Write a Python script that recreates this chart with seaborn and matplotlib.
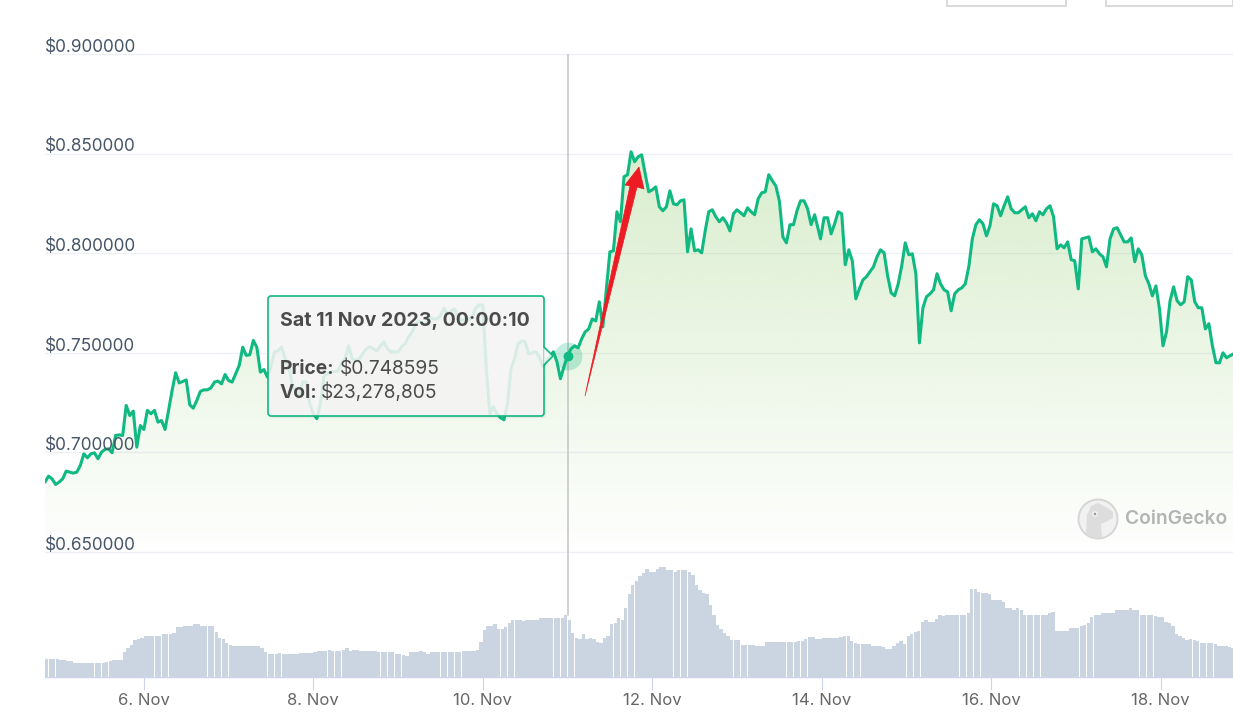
import numpy as np
import pandas as pd
import matplotlib
matplotlib.use('Agg')
import matplotlib.pyplot as plt
import matplotlib.dates as mdates
from matplotlib.patches import Polygon, Circle, Rectangle, FancyBboxPatch
from matplotlib.transforms import Affine2D
import seaborn as sns

# hourly prices, 4 Nov 20:00 onwards
price = [
    .6851, .6881, .6867, .6839, .6851, .6867, .6906, .6901, .6896, .6901, .6934, .6993, .6973, .6993, .6998, .6968,
    .7001, .7015, .7018, .6998, .7085, .7088, .7085, .7236, .7185, .7207, .7026, .7135, .7115, .7211, .7194, .7211,
    .7152, .7160, .7115, .7211, .7311, .7400, .7349, .7356, .7364, .7239, .7222, .7261, .7306, .7314, .7314, .7324,
    .7353, .7358, .7344, .7391, .7361, .7353, .7395, .7436, .7528, .7487, .7490, .7562, .7528, .7403, .7416, .7378,
    .7430, .7505, .7510, .7530, .7470, .7435, .7344, .7309, .7279, .7354, .7354, .7244, .7194, .7169, .7244, .7380,
    .7395, .7405, .7405, .7410, .7445, .7470, .7535, .7470, .7460, .7470, .7495, .7520, .7530, .7520, .7510, .7535,
    .7555, .7520, .7505, .7505, .7505, .7530, .7545, .7580, .7605, .7645, .7660, .7645, .7645, .7680, .7670, .7670,
    .7685, .7725, .7695, .7710, .7720, .7680, .7660, .7670, .7665, .7680, .7725, .7740, .7740, .7420, .7194, .7229,
    .7194, .7174, .7164, .7244, .7420, .7470, .7545, .7560, .7555, .7495, .7500, .7505, .7480, .7430, .7460, .7480,
    .7505, .7455, .7370, .7430, .7486, .7520, .7535, .7525, .7570, .7605, .7620, .7670, .7660, .7756, .7630,
    .7820, .8007, .8012, .8208, .8158, .8384, .8394, .8509, .8459, .8484, .8494, .8399, .8308, .8318, .8333, .8233,
    .8213, .8233, .8313, .8248, .8243, .8263, .8268, .8007, .8122, .8012, .8017, .8002, .8112, .8208, .8218, .8183,
    .8158, .8178, .8153, .8112, .8198, .8218, .8203, .8188, .8228, .8208, .8193, .8273, .8303, .8308, .8394, .8364,
    .8338, .8263, .8082, .8052, .8143, .8143, .8213, .8263, .8263, .8223, .8143, .8193, .8072, .8178, .8178, .8097,
    .8148, .8208, .8198, .7942, .8017, .7962, .7771, .7821, .7866, .7882, .7907, .7932, .7982, .8017, .8002, .7887,
    .7801, .7786, .7846, .7937, .8052, .7992, .7997, .7897, .7550, .7726, .7781, .7796, .7816, .7897, .7846, .7816,
    .7806, .7711, .7796, .7816, .7826, .7846, .7932, .8072, .8143, .8168, .8148, .8087, .8138, .8248, .8238, .8188,
    .8238, .8283, .8223, .8203, .8203, .8218, .8233, .8178, .8198, .8163, .8208, .8193, .8223, .8238, .8183, .8022,
    .8042, .8027, .8057, .7967, .7962, .7821, .8072, .8077, .8082, .8007, .8022, .7997, .7982, .7932, .8072, .8122,
    .8128, .8092, .8057, .8057, .8077, .7957, .8022, .7992, .7887, .7846, .7786, .7836, .7721, .7535, .7605, .7761,
    .7831, .7761, .7741, .7756, .7882, .7866, .7756, .7726, .7726, .7620, .7646, .7535, .7450, .7450, .7500, .7475,
    .7485, .7495,
]

# hourly volume in $M
volume = [
    6.85, 6.85, 6.85, 6.85, 6.85, 6.47, 6.47, 5.85, 5.85, 5.35, 5.35, 5.35, 5.35, 5.35, 5.35, 5.35,
    5.35, 5.35, 5.73, 5.85, 6.47, 6.47, 6.47, 9.21, 10.96, 11.83, 13.70, 14.19, 14.69, 15.31, 15.44, 15.31,
    15.31, 15.44, 15.94, 15.94, 15.94, 16.56, 18.68, 18.80, 19.30, 19.30, 19.30, 19.80, 19.80, 19.30, 19.30, 19.30,
    19.30, 17.06, 14.69, 14.19, 12.57, 11.95, 11.45, 11.45, 11.45, 11.45, 11.45, 11.45, 11.45, 11.45, 10.83, 9.21,
    8.59, 8.59, 8.59, 9.09, 8.59, 8.59, 8.59, 8.59, 8.59, 9.09, 9.09, 9.09, 9.09, 9.21, 9.71, 9.71,
    9.71, 10.21, 9.71, 9.71, 9.71, 10.21, 10.83, 9.71, 10.21, 10.21, 9.71, 9.71, 9.71, 9.71, 9.71, 9.21,
    9.21, 9.21, 9.21, 9.21, 8.59, 8.59, 8.09, 7.97, 9.21, 9.21, 9.21, 9.71, 9.21, 8.59, 9.21, 9.21,
    9.21, 9.21, 9.21, 9.21, 9.21, 9.21, 9.21, 9.71, 9.71, 9.71, 9.71, 10.21, 13.07, 17.68, 19.17, 19.17,
    19.80, 18.18, 18.18, 18.68, 20.42, 21.41, 21.41, 21.41, 20.92, 21.41, 21.41, 21.41, 21.41, 22.04, 22.04, 22.04,
    22.04, 22.04, 22.04, 22.04, 23.28, 21.41, 16.56, 14.69, 14.19, 15.94, 14.19, 14.69, 14.19, 13.07, 12.57, 14.69,
    15.31, 19.80, 20.42, 22.04, 21.41, 25.90, 31.13, 34.36, 36.11, 37.72, 38.84, 40.46, 39.47, 39.47, 40.46, 41.09,
    41.09, 40.09, 40.09, 39.47, 40.09, 40.09, 40.09, 39.47, 38.35, 34.36, 32.62, 31.50, 31.13, 26.99, 23.28, 19.67,
    18.18, 16.43, 15.31, 13.94, 13.70, 13.70, 12.08, 12.08, 12.08, 12.08, 11.45, 11.45, 11.45, 13.07, 13.07, 13.07,
    13.07, 13.07, 13.07, 13.07, 13.07, 13.07, 13.57, 13.57, 14.19, 14.82, 14.82, 14.19, 14.19, 14.69, 14.69, 14.69,
    14.69, 14.69, 15.06, 15.31, 15.31, 13.45, 12.82, 12.20, 12.20, 12.20, 12.20, 11.70, 11.70, 11.70, 11.21, 10.58,
    10.58, 11.58, 12.70, 13.32, 12.45, 15.56, 16.19, 16.81, 17.31, 20.67, 21.29, 20.67, 20.67, 21.79, 23.41, 23.03,
    23.41, 23.41, 23.41, 23.41, 23.41, 23.41, 24.03, 33.12, 33.12, 32.00, 31.50, 31.50, 31.25, 29.01, 29.01, 29.01,
    28.01, 25.77, 25.77, 25.15, 25.77, 25.15, 23.41, 23.41, 23.41, 23.41, 23.41, 23.41, 23.41, 24.03, 24.53, 17.43,
    17.43, 17.43, 17.43, 18.43, 18.43, 18.43, 19.05, 19.67, 20.17, 22.41, 23.41, 23.41, 24.03, 24.03, 24.03, 24.03,
    25.15, 25.15, 25.15, 25.15, 25.77, 25.15, 25.15, 23.41, 23.41, 23.41, 23.41, 22.78, 22.41, 22.41, 20.67, 20.17,
    19.05, 16.19, 15.19, 14.57, 13.82, 14.32, 13.82, 13.32, 12.82, 12.82, 12.82, 12.70, 12.20, 11.70, 11.70, 11.70,
    11.21, 10.96,
]

price_ticks = [0.65, 0.70, 0.75, 0.80, 0.85, 0.90]
date_ticks = ['2023-11-06', '2023-11-08', '2023-11-10', '2023-11-12', '2023-11-14', '2023-11-16', '2023-11-18']
hover_time = '2023-11-11 00:00:10'
hover_price = 0.748595
hover_vol = 23278805

W, H = 1233, 728
GREEN = '#10b981'
sns.set_theme(style='white')
plt.rcParams['font.family'] = ['Inter', 'DejaVu Sans']

fig = plt.figure(figsize=(W / 100, H / 100), dpi=100, facecolor='white')
# helper for page furniture placed in image pixels
px = Affine2D().scale(1, -1).translate(0, H)

ax = fig.add_axes([45 / W, (H - 552) / H, (W - 45) / W, 498 / H], facecolor='none')
ax_v = fig.add_axes([45 / W, (H - 677) / H, (W - 45) / W, 125 / H], facecolor='none')

df = pd.DataFrame({'t': pd.date_range('2023-11-04 20:00:10', periods=len(price), freq='h'), 'price': price})
# samples after 14 Nov sit a bit later than the plain hourly grid
df.loc[219:, 't'] = df.loc[219:, 't'] + pd.Timedelta(minutes=40)
dfv = pd.DataFrame({'t': pd.date_range('2023-11-04 19:30:10', periods=len(volume), freq='h'), 'vol': volume})
dfv['n'] = mdates.date2num(dfv['t'])

x0 = mdates.date2num(pd.Timestamp('2023-11-04 20:00:00'))
x1 = mdates.date2num(pd.Timestamp('2023-11-18 20:30:00'))

# volume bars
sns.barplot(data=dfv, x='n', y='vol', native_scale=True, color='#cbd5e1', saturation=1,
            width=0.94, linewidth=0, errorbar=None, ax=ax_v)
ax_v.set_xlim(x0, x1)
ax_v.set_ylim(0, 125 * 0.375)
ax_v.set_xlabel('')
ax_v.set_ylabel('')
ax_v.set_yticks([])
ax_v.set_xticks(mdates.date2num(pd.to_datetime(date_ticks)))
ax_v.set_xticklabels([pd.Timestamp(d).strftime('%-d. %b') for d in date_ticks], fontsize=12, color='#666666')
ax_v.tick_params(axis='x', length=9.5, width=0.8, color='#ccd6eb', pad=1.8, bottom=True)
for s in ['top', 'left', 'right']:
    ax_v.spines[s].set_visible(False)
ax_v.spines['bottom'].set_color('#ccd6eb')
ax_v.spines['bottom'].set_linewidth(1)

# gridlines and price labels
ax.set_xlim(x0, x1)
ax.set_ylim(0.65, 0.90)
for p in price_ticks:
    ax.axhline(p, color='#eff0f5', lw=1, zorder=1, clip_on=False)
    ax.annotate('$%.6f' % p, (0, p), xycoords=ax.get_yaxis_transform(), xytext=(0, -1.3), textcoords='offset points',
                fontsize=12.4, color='#475569', ha='left', va='bottom', zorder=6, annotation_clip=False)

# green area under the line, fading downward
n = mdates.date2num(df['t'])
grad = np.zeros((256, 1, 4))
grad[..., 0] = 140 / 255
grad[..., 1] = 203 / 255
grad[..., 2] = 106 / 255
grad[..., 3] = np.linspace(0.33, 0.0, 256)[:, None]
im = ax.imshow(grad, extent=[x0, x1, 0.645, 0.8509], aspect='auto', zorder=2, interpolation='bilinear')
verts = list(zip(n, df['price'])) + [(n[-1], 0.65), (n[0], 0.65)]
clip = Polygon(verts, closed=True, transform=ax.transData, facecolor='none', edgecolor='none')
ax.add_patch(clip)
im.set_clip_path(clip)

sns.lineplot(data=df, x='t', y='price', color=GREEN, lw=2.2, ax=ax, zorder=4, errorbar=None,
             solid_joinstyle='round', legend=False)
ax.set_xlim(x0, x1)
ax.set_ylim(0.65, 0.90)
ax.set_xlabel('')
ax.set_ylabel('')
ax.set_xticks([])
ax.set_yticks([])
sns.despine(ax=ax, left=True, bottom=True)

# hover marker and crosshair
hover_x = mdates.date2num(pd.Timestamp(hover_time))
ax.axvline(hover_x, color='#c8c8c8', lw=1.2, zorder=3)
ax_v.plot([hover_x, hover_x], [23.28, 125 * 0.375], color='#c8c8c8', lw=1.2, zorder=3)
sns.scatterplot(x=[pd.Timestamp(hover_time)], y=[hover_price], s=400, color=GREEN, alpha=0.25, linewidth=0,
                ax=ax, zorder=5, legend=False)
sns.scatterplot(x=[pd.Timestamp(hover_time)], y=[hover_price], s=50, color=GREEN, linewidth=0,
                ax=ax, zorder=5, legend=False)
ax.set_xlim(x0, x1)
ax.set_ylim(0.65, 0.90)
ax.set_xlabel('')
ax.set_ylabel('')

# red arrow pasted on the screenshot
fig.add_artist(Polygon([(585, 396), (630, 186), (625, 185), (639, 167), (644, 189), (637, 187)], closed=True,
                       transform=px, facecolor='#ed1c24', edgecolor='#ed1c24', lw=0.5, zorder=8))

# tooltip
fig.add_artist(FancyBboxPatch((270, 298), 276, 120, boxstyle='round,pad=0,rounding_size=3', mutation_scale=1,
                              transform=px, facecolor='#000000', alpha=0.05, edgecolor='none', zorder=9))
fig.add_artist(FancyBboxPatch((268, 296), 276, 120, boxstyle='round,pad=0,rounding_size=3', mutation_scale=1,
                              transform=px, facecolor=(0.965, 0.965, 0.965, 0.87), edgecolor=GREEN, lw=1.2, zorder=10))
fig.add_artist(Polygon([(543.4, 347), (553, 356), (543.4, 365)], closed=True, transform=px,
                       facecolor=(0.965, 0.965, 0.965, 0.87), edgecolor='none', zorder=10))
fig.add_artist(plt.Line2D([544, 553, 544], [347, 356, 365], transform=px, color=GREEN, lw=1.2, zorder=10))

tk = dict(transform=px, color='#4b4b4b', va='baseline', ha='left', zorder=11)
fig.text(280, 326, pd.Timestamp(hover_time).strftime('%a %-d %b %Y, %H:%M:%S'), fontweight='bold', fontsize=14.1, **tk)
fig.text(280, 374, 'Price:', fontweight='bold', fontsize=13.8, **tk)
fig.text(339.5, 374, '$%.6f' % hover_price, fontsize=13.8, **tk)
fig.text(280, 398, 'Vol:', fontweight='bold', fontsize=13.8, **tk)
fig.text(321, 398, '${:,}'.format(hover_vol), fontsize=13.8, **tk)

# CoinGecko watermark
fig.add_artist(Circle((1098, 519), 19.5, transform=px, facecolor='#f1f1f1', edgecolor='#d6d6d6', lw=1.4, zorder=7))
fig.add_artist(Polygon([(1086, 534), (1087, 515), (1091, 506), (1098, 503), (1106, 507), (1113, 512), (1113, 518),
                        (1106, 522), (1101, 524), (1102, 537), (1094, 538)], closed=True, transform=px,
                       facecolor='#dddddd', edgecolor='none', zorder=7))
fig.add_artist(Circle((1095, 514), 2, transform=px, facecolor='#9a9a9a', edgecolor='white', lw=0.8, zorder=7))
fig.text(1125.5, 524.5, 'CoinGecko', transform=px, color='#b3b3b3', fontsize=13.8, fontweight='semibold',
         va='baseline', ha='left', zorder=7)

# cropped range buttons at the top edge
fig.add_artist(Rectangle((946.5, -5), 119.5, 10.5, transform=px, facecolor='white', edgecolor='#d9d9d9', lw=1.4))
fig.add_artist(Rectangle((1105.5, -5), 127, 10.5, transform=px, facecolor='white', edgecolor='#d9d9d9', lw=1.4))

fig.savefig('out.png', dpi=100, facecolor='white')
